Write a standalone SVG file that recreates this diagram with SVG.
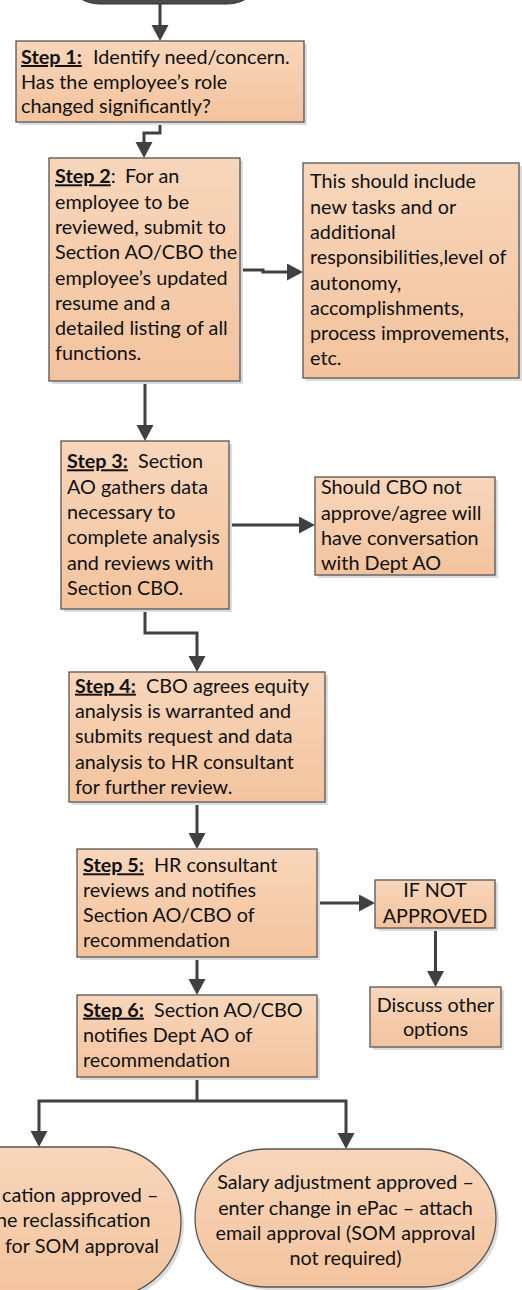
<svg xmlns="http://www.w3.org/2000/svg" width="522" height="1290" viewBox="0 0 522 1290">
<style>
.box{fill:url(#g);stroke:#555;stroke-width:1.3}
.sh{fill:#dcdcdc}
.t{font-family:Lato,"Liberation Sans",sans-serif;font-size:19.8px;fill:#111}
.c{text-anchor:middle}
.b{font-weight:bold;text-decoration:underline}
.ln{fill:none;stroke:#404040;stroke-width:3;marker-end:url(#a)}
.ln2{fill:none;stroke:#404040;stroke-width:3}
</style>
<defs>
<linearGradient id="g" x1="0" y1="0" x2="0" y2="1">
<stop offset="0" stop-color="#f8d6bb"/>
<stop offset="1" stop-color="#f3c39d"/>
</linearGradient>
<marker id="a" markerUnits="userSpaceOnUse" markerWidth="18" markerHeight="18" refX="6" refY="8.5" orient="auto">
<path d="M0,0 L16,8.5 L0,17 z" fill="#404040"/>
</marker>
</defs>

<g id="start">
<rect x="70" y="-40" width="187" height="44" rx="30" fill="#4a4a4a" stroke="#333" stroke-width="1"/>
</g>

<g id="connectors">
<path class="ln" d="M160,4 V31"/>
<path class="ln" d="M160,122 V133 H144 V148"/>
<path class="ln" d="M240,270 H263 V272 H293"/>
<path class="ln" d="M145,381 V431"/>
<path class="ln" d="M229,525 H305"/>
<path class="ln" d="M145,609 V633 H197 V662"/>
<path class="ln" d="M197,802 V839"/>
<path class="ln" d="M317,903 H365"/>
<path class="ln" d="M435.5,928 V977"/>
<path class="ln" d="M197,957 V985"/>
<path class="ln2" d="M197,1077 V1101"/>
<path class="ln" d="M197,1101 H39 V1137"/>
<path class="ln" d="M197,1101 H346 V1139"/>
</g>

<g id="step1">
<rect class="sh" x="19" y="44" width="288" height="81"/>
<rect class="box" x="16" y="41" width="288" height="81"/>
<text class="t"><tspan class="b" x="21" y="64">Step 1:</tspan><tspan x="93" y="64">Identify need/concern.</tspan><tspan x="21" y="88.5">Has the employee’s role</tspan><tspan x="21" y="113">changed significantly?</tspan></text>
</g>

<g id="step2">
<rect class="sh" x="52" y="161" width="191" height="223"/>
<rect class="box" x="49" y="158" width="191" height="223"/>
<text class="t"><tspan class="b" x="55" y="183.3">Step 2</tspan><tspan>:</tspan><tspan x="125" y="183.3">For an</tspan><tspan x="55" y="208.6">employee to be</tspan><tspan x="55" y="233.9">reviewed, submit to</tspan><tspan x="55" y="259.2">Section AO/CBO the</tspan><tspan x="55" y="284.5">employee’s updated</tspan><tspan x="55" y="309.8">resume and a</tspan><tspan x="55" y="335.1">detailed listing of all</tspan><tspan x="55" y="360.4">functions.</tspan></text>
</g>

<g id="note1">
<rect class="sh" x="306" y="166" width="216" height="215"/>
<rect class="box" x="303" y="163" width="216" height="215"/>
<text class="t"><tspan x="310" y="188.3">This should include</tspan><tspan x="310" y="213.6">new tasks and or</tspan><tspan x="310" y="238.9">additional</tspan><tspan x="310" y="264.2">responsibilities,level of</tspan><tspan x="310" y="289.5">autonomy,</tspan><tspan x="310" y="314.8">accomplishments,</tspan><tspan x="310" y="340.1">process improvements,</tspan><tspan x="310" y="365.4">etc.</tspan></text>
</g>

<g id="step3">
<rect class="sh" x="64" y="444" width="168" height="168"/>
<rect class="box" x="61" y="441" width="168" height="168"/>
<text class="t"><tspan class="b" x="67" y="468.3">Step 3:</tspan><tspan x="138" y="468.3">Section</tspan><tspan x="67" y="493.6">AO gathers data</tspan><tspan x="67" y="518.9">necessary to</tspan><tspan x="67" y="544.2">complete analysis</tspan><tspan x="67" y="569.5">and reviews with</tspan><tspan x="67" y="594.8">Section CBO.</tspan></text>
</g>

<g id="note2">
<rect class="sh" x="318" y="480" width="180" height="98"/>
<rect class="box" x="315" y="477" width="180" height="98"/>
<text class="t"><tspan x="321" y="494.3">Should CBO not</tspan><tspan x="321" y="519.6">approve/agree will</tspan><tspan x="321" y="544.9">have conversation</tspan><tspan x="321" y="570.2">with Dept AO</tspan></text>
</g>

<g id="step4">
<rect class="sh" x="72" y="675" width="256" height="130"/>
<rect class="box" x="69" y="672" width="256" height="130"/>
<text class="t"><tspan class="b" x="75" y="692.7">Step 4:</tspan><tspan x="146" y="692.7">CBO agrees equity</tspan><tspan x="75" y="718">analysis is warranted and</tspan><tspan x="75" y="743.3">submits request and data</tspan><tspan x="75" y="768.6">analysis to HR consultant</tspan><tspan x="75" y="793.9">for further review.</tspan></text>
</g>

<g id="step5">
<rect class="sh" x="80" y="852" width="240" height="108"/>
<rect class="box" x="77" y="849" width="240" height="108"/>
<text class="t"><tspan class="b" x="83" y="872.3">Step 5:</tspan><tspan x="154" y="872.3">HR consultant</tspan><tspan x="83" y="897">reviews and notifies</tspan><tspan x="83" y="922">Section AO/CBO of</tspan><tspan x="83" y="947">recommendation</tspan></text>
</g>

<g id="notapproved">
<rect class="sh" x="378" y="883" width="120" height="48"/>
<rect class="box" x="375" y="880" width="120" height="48"/>
<text class="t c"><tspan x="435" y="896.7">IF NOT</tspan><tspan x="435" y="922.5">APPROVED</tspan></text>
</g>

<g id="discuss">
<rect class="sh" x="373" y="990" width="131" height="60"/>
<rect class="box" x="370" y="987" width="131" height="60"/>
<text class="t c"><tspan x="435.5" y="1011.7">Discuss other</tspan><tspan x="435.5" y="1036">options</tspan></text>
</g>

<g id="step6">
<rect class="sh" x="80" y="998" width="240" height="82"/>
<rect class="box" x="77" y="995" width="240" height="82"/>
<text class="t"><tspan class="b" x="83" y="1016.7">Step 6:</tspan><tspan x="154" y="1016.7">Section AO/CBO</tspan><tspan x="83" y="1042">notifies Dept AO of</tspan><tspan x="83" y="1067">recommendation</tspan></text>
</g>

<g id="reclass">
<rect class="sh" x="-100" y="1150" width="284" height="150" rx="75" ry="75"/>
<rect class="box" x="-103" y="1147" width="284" height="150" rx="75" ry="75"/>
<text class="t"><tspan x="2" y="1201.7">cation approved –</tspan><tspan x="-4" y="1227">he reclassification</tspan><tspan x="5" y="1252.7">for SOM approval</tspan></text>
</g>

<g id="salary">
<rect class="sh" x="198" y="1152" width="301" height="138" rx="72" ry="69"/>
<rect class="box" x="195" y="1149" width="301" height="138" rx="72" ry="69"/>
<text class="t c"><tspan x="345.5" y="1189.3">Salary adjustment approved –</tspan><tspan x="345.5" y="1214.6">enter change in ePac – attach</tspan><tspan x="345.5" y="1239.9">email approval (SOM approval</tspan><tspan x="345.5" y="1265.2">not required)</tspan></text>
</g>
</svg>
